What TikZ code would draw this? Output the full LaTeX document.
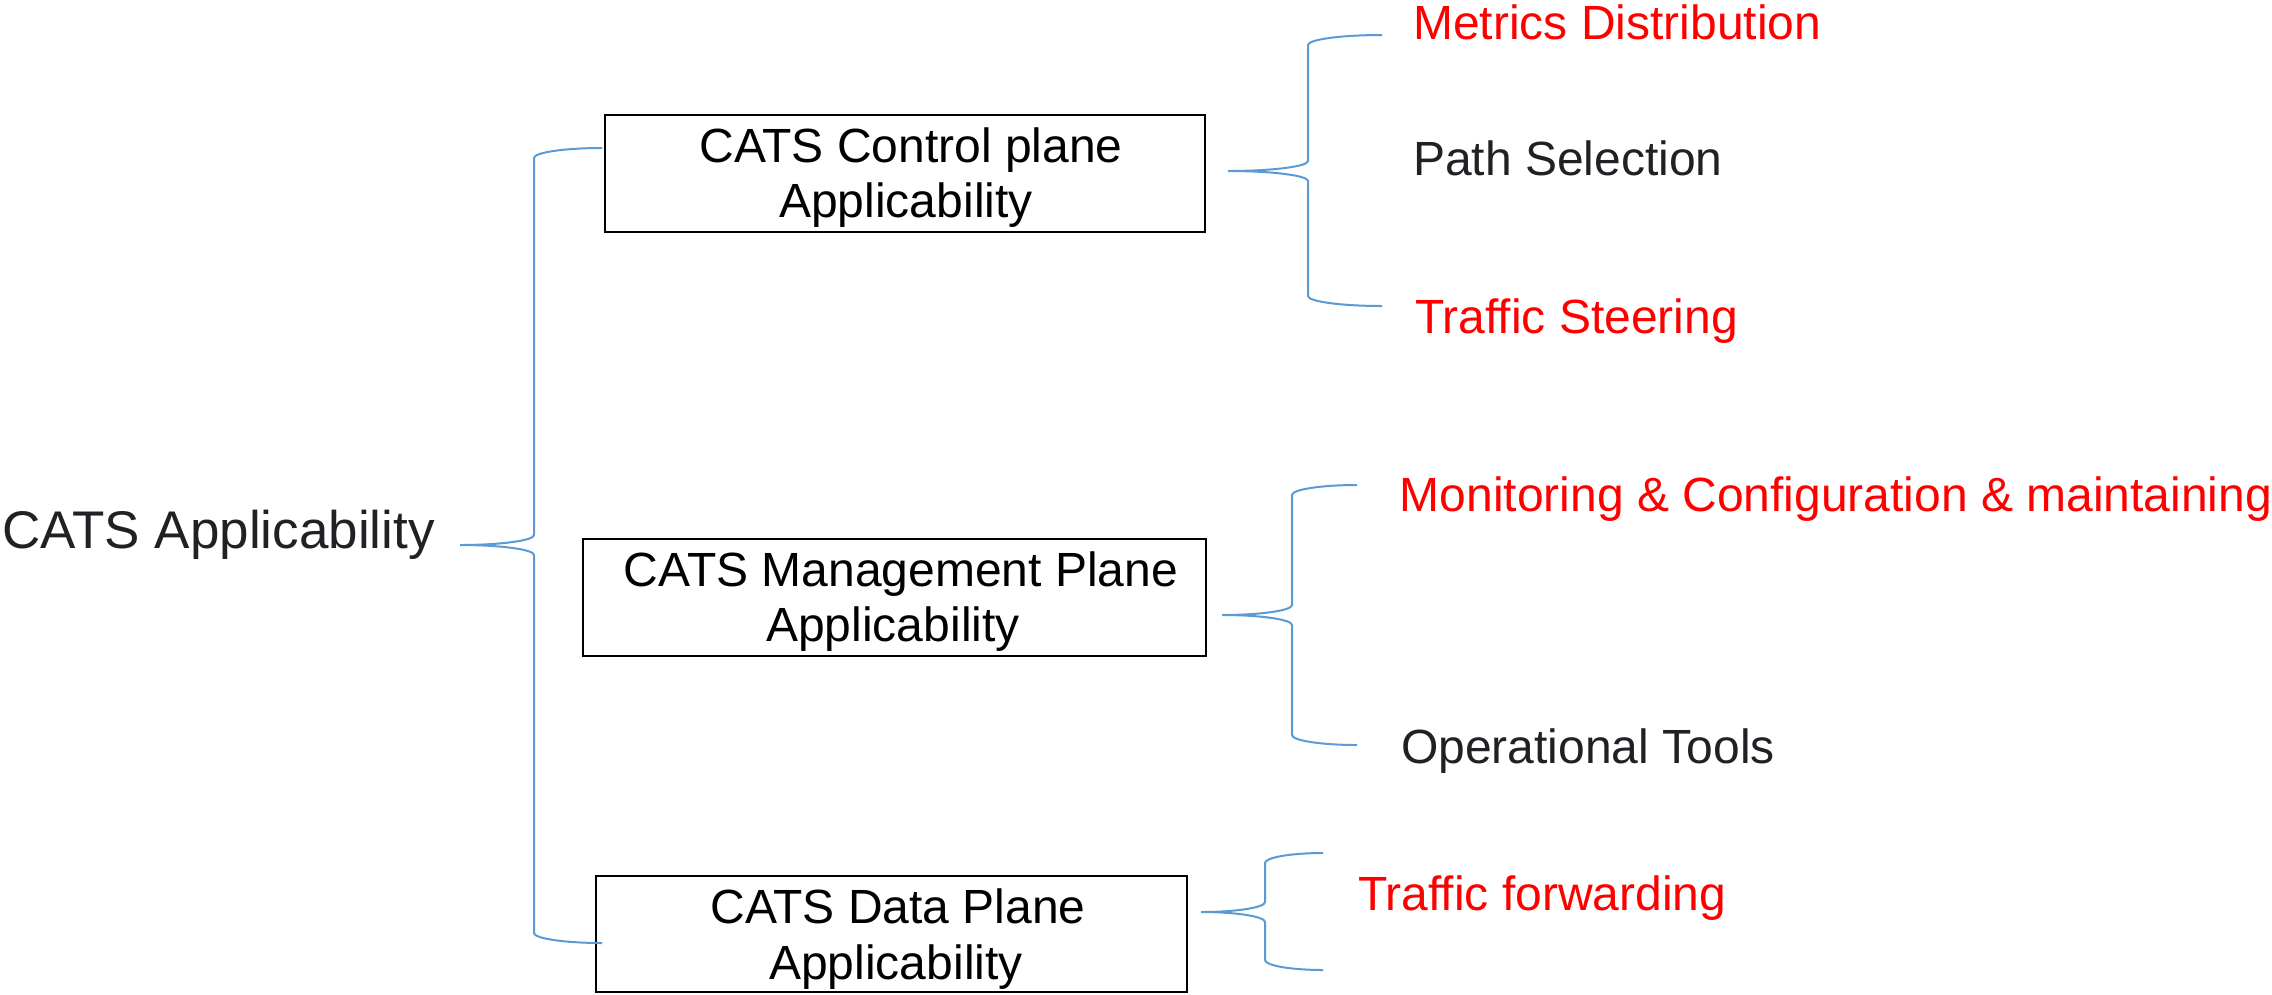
\documentclass[tikz,border=0pt]{standalone}
\usepackage{fontspec}
\setmainfont{Liberation Sans}
\definecolor{braceblue}{HTML}{5B9BD5}
\definecolor{darktext}{HTML}{202124}
\definecolor{redtext}{HTML}{FF0000}
% #1 tip x, #2 tip y, #3 vertical x, #4 end x, #5 top y, #6 bottom y
\newcommand\catsbrace[6]{%
  \draw[bracest] (#4,#5) .. controls ({#4-0.552*(#4-#3)},#5) and (#3,#5+4.5) .. (#3,#5+10)
    -- (#3,#2-10) .. controls (#3,#2-4.5) and ({#1+0.552*(#3-#1)},#2) .. (#1,#2)
    .. controls ({#1+0.552*(#3-#1)},#2) and (#3,#2+4.5) .. (#3,#2+10)
    -- (#3,#6-10) .. controls (#3,#6-4.5) and ({#4-0.552*(#4-#3)},#6) .. (#4,#6);}
\begin{document}
\begin{tikzpicture}[x=1pt,y=-1pt,
  bracest/.style={draw=braceblue,line width=2pt},
  boxst/.style={draw=black,line width=2.2pt,inner sep=0pt,rectangle},
  boxtext/.style={inner sep=0pt,anchor=base,text=black,font=\fontsize{48}{55}\selectfont},
  lbl/.style={inner sep=0pt,anchor=base west,font=\fontsize{48}{55}\selectfont},
  redl/.style={lbl,text=redtext},
  grayl/.style={lbl,text=darktext}]
\useasboundingbox (0,0) rectangle (2272,994);
\fill[white] (0,0) rectangle (2272,994);

% root
\node[inner sep=0pt,anchor=base west,text=darktext,font=\fontsize{53}{60}\selectfont] (root) at (2.5,548) {CATS Applicability};

% boxes
\node[boxst,minimum width=600pt,minimum height=117pt] (ctrl) at (905,173.5) {};
\node[boxtext] (ctrlA) at (911,162) {CATS Control plane};
\node[boxtext] (ctrlB) at (906,217) {Applicability};

\node[boxst,minimum width=623pt,minimum height=117pt] (mgmt) at (894.5,597.5) {};
\node[boxtext] (mgmtA) at (901,586) {CATS Management Plane};
\node[boxtext] (mgmtB) at (893,641) {Applicability};

\node[boxst,minimum width=591pt,minimum height=116pt] (data) at (891.5,934) {};
\node[boxtext] (dataA) at (898,923) {CATS Data Plane};
\node[boxtext] (dataB) at (896,979) {Applicability};

% leaf labels
\node[redl] (metrics) at (1413,39) {Metrics Distribution};
\node[grayl] (path) at (1413,175) {Path Selection};
\node[redl] (steer) at (1415,333) {Traffic Steering};
\node[redl] (monit) at (1399.5,511) {Monitoring \& Configuration \& maintaining};
\node[grayl] (optools) at (1401,763) {Operational Tools};
\node[redl] (fwd) at (1358,910) {Traffic forwarding};

% braces
\catsbrace{460}{545}{534}{602}{148}{943}
\catsbrace{1228}{171}{1308}{1382}{35}{306}
\catsbrace{1222}{615}{1292}{1357}{485}{745}
\catsbrace{1201}{912}{1265}{1323}{853}{970}
\end{tikzpicture}
\end{document}
